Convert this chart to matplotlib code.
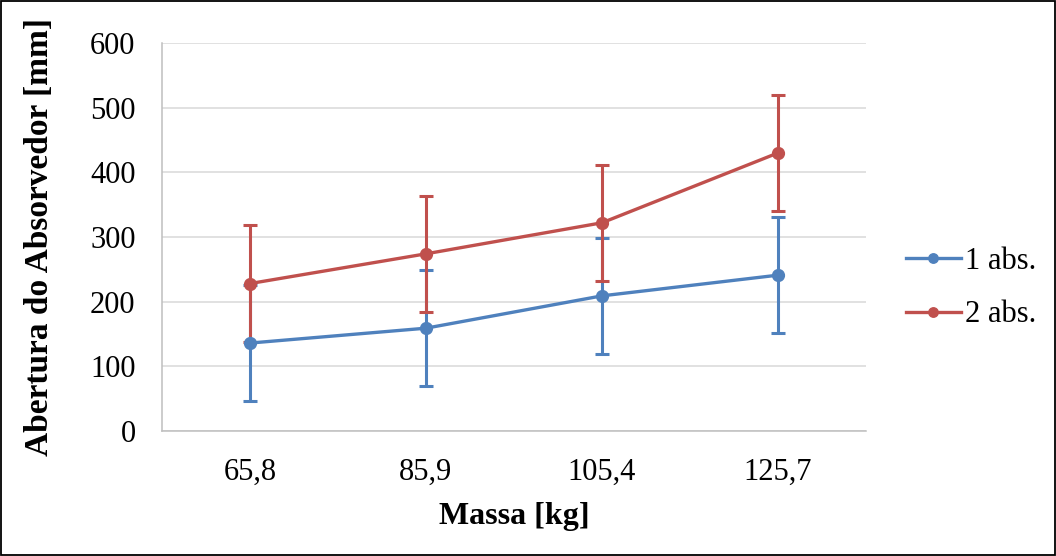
import matplotlib
matplotlib.use("Agg")
import matplotlib.pyplot as plt
from matplotlib.patches import Rectangle

plt.rcParams["font.family"] = ["Liberation Serif", "DejaVu Serif"]

categories = ["65,8", "85,9", "105,4", "125,7"]
abs1 = [136, 159, 209, 241]
abs2 = [228, 274, 322, 430]
err1 = [90, 90, 90, 90]
err2 = [90, 90, 90, 90]
series_names = ["1 abs.", "2 abs."]
yticks = [0, 100, 200, 300, 400, 500, 600]

blue = "#4f81bd"
red = "#c0504d"

fig = plt.figure(figsize=(10.56, 5.56), dpi=100)
ax = fig.add_axes([162 / 1056, 1 - 431 / 556, 704 / 1056, 388 / 556])

x = list(range(len(categories)))
for vals, errs, color, name in [(abs1, err1, blue, series_names[0]),
                                (abs2, err2, red, series_names[1])]:
    ax.errorbar(x, vals, yerr=errs, color=color, linewidth=2.4, marker="o",
                markersize=8.5, elinewidth=2.2, capsize=4.7, capthick=2.2,
                label=name)

ax.set_xlim(-0.5, len(categories) - 0.5)
ax.set_ylim(0, 600)
ax.set_yticks(yticks)
ax.set_xticks(x)
ax.set_xticklabels(categories)
ax.tick_params(length=0, labelsize=22)
ax.tick_params(axis="x", pad=19)
ax.tick_params(axis="y", pad=19)
ax.grid(axis="y", color="#d9d9d9", linewidth=1.1)
ax.set_axisbelow(True)
for s in ["top", "right"]:
    ax.spines[s].set_visible(False)
for s in ["left", "bottom"]:
    ax.spines[s].set_color("#bfbfbf")
    ax.spines[s].set_linewidth(1.1)

ax.set_xlabel("Massa [kg]", fontsize=23, fontweight="bold", va="top")
ax.xaxis.set_label_coords(0.5, -0.183)
ax.set_ylabel("Abertura do Absorvedor [mm]", fontsize=24, fontweight="bold")
ax.yaxis.set_label_coords(-0.152, 0.5)

handles, labels = ax.get_legend_handles_labels()
handles = [h[0] for h in handles]
fig.legend(handles, labels, loc="center left",
           bbox_to_anchor=(878 / 1056, 1 - 288 / 556),
           frameon=False, fontsize=22, handlelength=1.8, handletextpad=0.15,
           labelspacing=0.8, markerscale=0.8)

fig.patches.append(Rectangle((0.001, 0.001), 0.998, 0.997, transform=fig.transFigure,
                             fill=False, edgecolor="black", linewidth=1.3))

plt.savefig("out.png", dpi=100)
plt.close()
